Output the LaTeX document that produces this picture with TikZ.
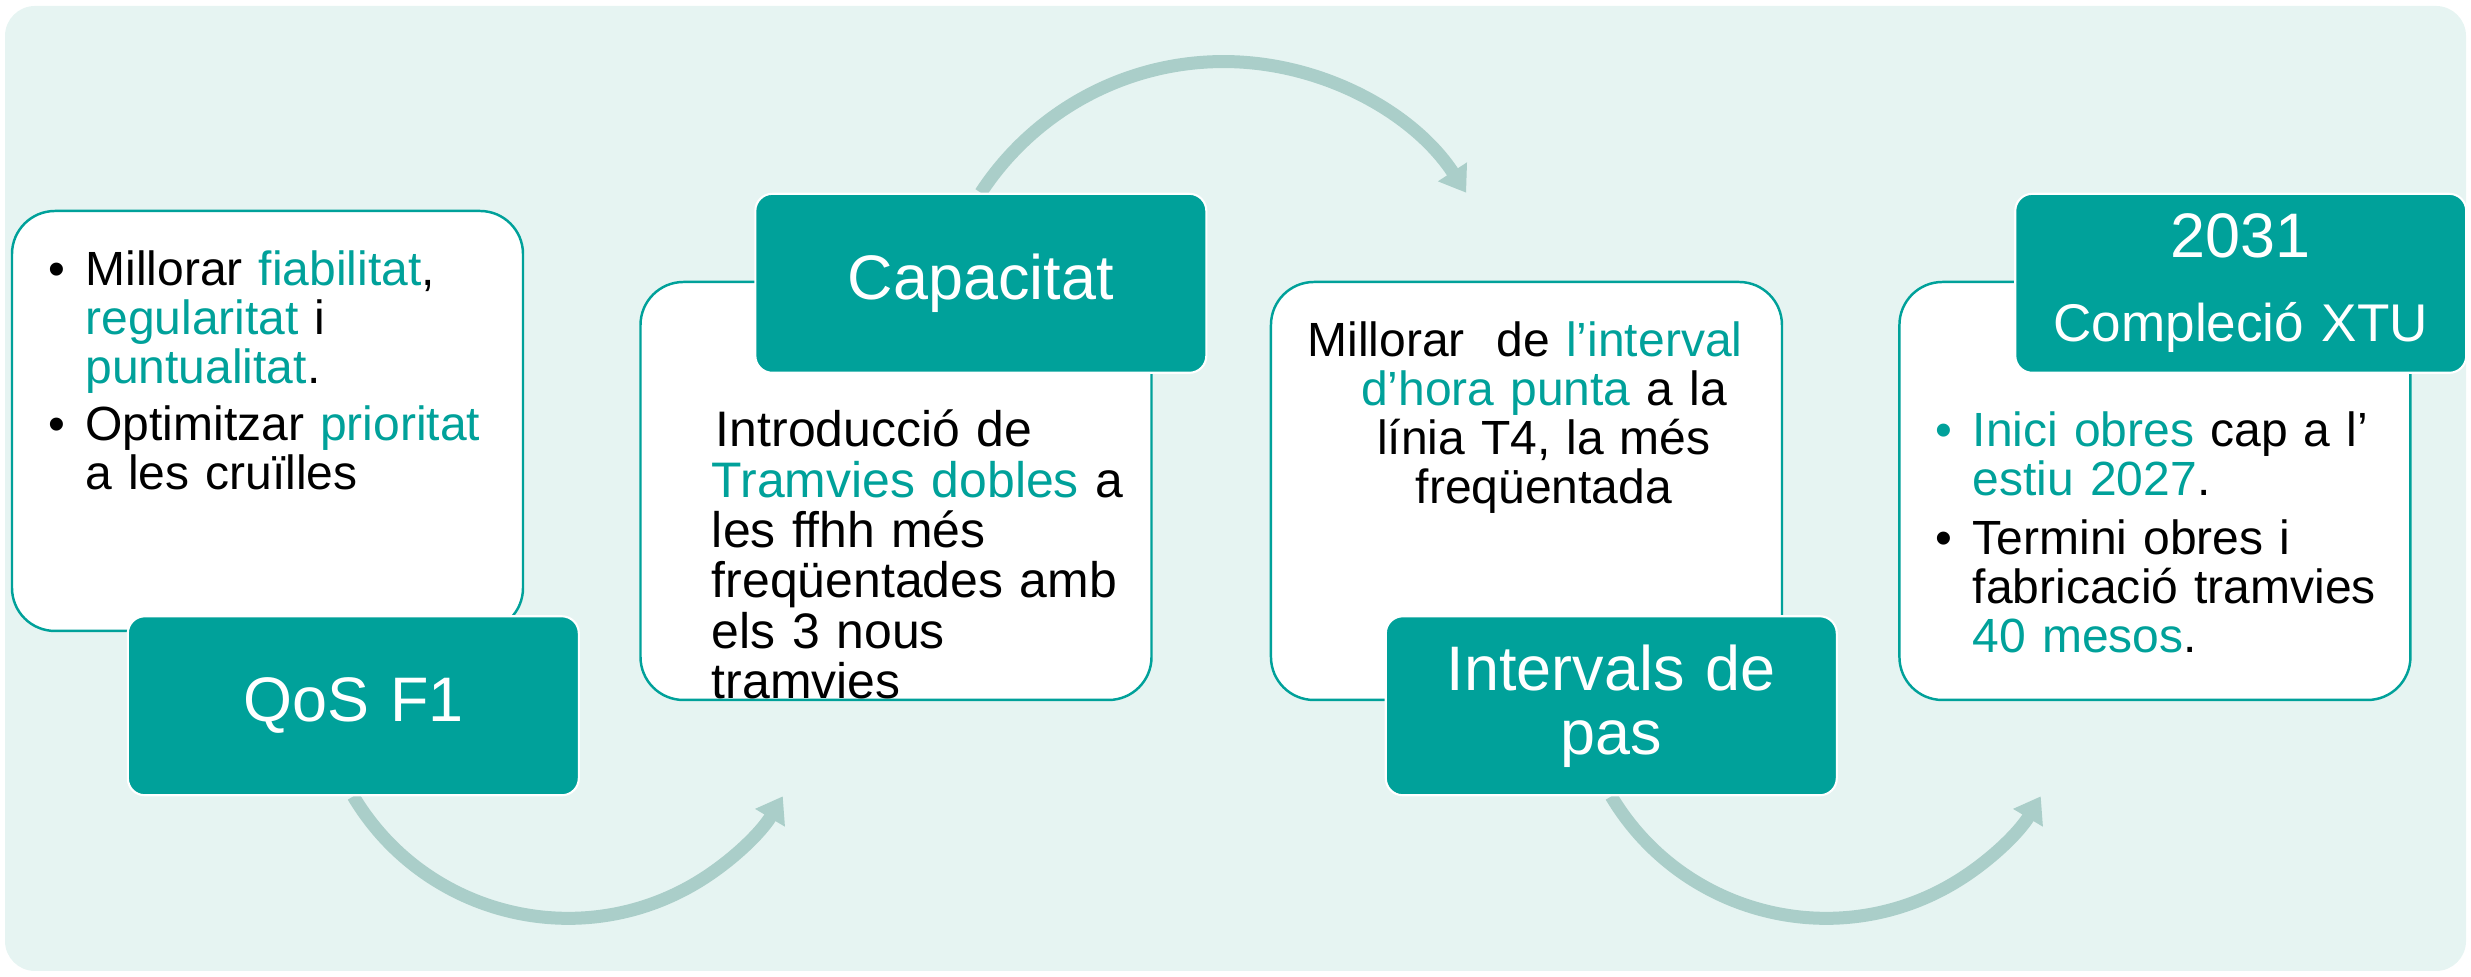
\documentclass[tikz,border=0pt]{standalone}
\usepackage{fontspec}
\setmainfont{Liberation Sans}
\usepackage{xcolor}
\usetikzlibrary{arrows.meta, positioning, backgrounds}

\definecolor{tealmain}{HTML}{00A19A}
\definecolor{mintbg}{HTML}{E6F4F2}
\definecolor{arcgray}{HTML}{AACEC9}

\newcommand{\mint}[1]{\textcolor{tealmain}{#1}}
\newcommand{\bul}[1][black]{\makebox[0.37cm][l]{\textcolor{#1}{\textbullet}}}
\newcommand{\cont}{\hspace*{0.37cm}}
\newcommand{\bodyfont}{\fontsize{13.66pt}{13.9pt}\selectfont\lineskiplimit=-1cm}
\newcommand{\capfont}{\fontsize{14.2pt}{14.34pt}\selectfont\lineskiplimit=-1cm}
\newcommand{\headfont}{\fontsize{17.9pt}{18.2pt}\selectfont\lineskiplimit=-1cm}
\newcommand{\xtufont}{\fontsize{15.1pt}{23.9pt}\selectfont\lineskiplimit=-1cm}
\newcommand{\yearfont}{\fontsize{17.9pt}{23.9pt}\selectfont}

\begin{document}
\begin{tikzpicture}
\tikzstyle{panel} = [rectangle, draw=tealmain, line width=0.7pt, fill=white, rounded corners=0.43cm, minimum width=5.11cm, minimum height=4.18cm]
\tikzstyle{heading} = [rectangle, draw=white, line width=0.6pt, fill=tealmain, rounded corners=0.17cm, minimum width=4.51cm, minimum height=1.79cm, inner sep=0pt, text width=4.4cm, align=center, text=white, font=\headfont, anchor=north west]
\tikzstyle{body} = [inner sep=0pt, font=\bodyfont, align=left, text width=4.5cm, anchor=base west]
\tikzstyle{flow} = [draw=arcgray, line width=0.13cm, -{Triangle[length=0.25cm, width=0.33cm]}]

\useasboundingbox (0,0) rectangle (24.71,9.77);

\node [panel, minimum height=4.2cm] (qosbody) at (2.675,5.56) {};
\node [panel] (capbody) at (8.96,4.86) {};
\node [panel, right=1.17cm of capbody] (intbody) {};
\node [panel, right=1.15cm of intbody] (xtubody) {};

\node [body] (qostext) at ([xshift=0.37cm, yshift=-0.76cm]qosbody.north west) {\bul Millorar \mint{fiabilitat},\\ \cont\mint{regularitat} i\\ \cont\mint{puntualitat}.\\[0.08cm] \bul Optimitzar \mint{prioritat}\\ \cont a les cruïlles};
\node [body, font=\capfont] (captext) at ([xshift=0.72cm, yshift=-1.66cm]capbody.north west) {\hspace*{0.04cm}Introducció de\\ \mint{Tramvies dobles} a\\ les ffhh més\\ freqüentades amb\\ els 3 nous\\ tramvies};
\node [body, align=center, anchor=base, text width=4.8cm] (inttext) at ([xshift=0.175cm, yshift=-0.76cm]intbody.north) {Millorar\ \ de \mint{l’interval}\hspace*{0.38cm}\mbox{}\\ \mint{d’hora punta} a la\\ línia T4, la més\\ freqüentada};
\node [body] (xtutext) at ([xshift=0.37cm, yshift=-1.66cm]xtubody.north west) {\bul[tealmain]\mint{Inici obres} cap a l’\\ \cont\mint{estiu 2027}.\\[0.1cm] \bul Termini obres i\\ \cont fabricació tramvies\\ \cont\mint{40 mesos}.};

\node [heading] (qos) at ([shift={(1.16,0.17)}]qosbody.south west) {QoS F1};
\node [heading] (cap) at ([shift={(1.15,0.88)}]capbody.north west) {Capacitat};
\node [heading] (int) at ([shift={(1.15,0.86)}]intbody.south west) {Intervals de\\pas};
\node [heading, font=\xtufont] (xtu) at ([shift={(1.16,0.88)}]xtubody.north west) {{\yearfont 2031}\\Compleció XTU};

\begin{scope}[on background layer]
\fill [mintbg, rounded corners=0.3cm] (0.05,0.06) rectangle (24.66,9.71);
\draw [flow] (qos.south) arc[start angle=210.8, end angle=329.2, radius=2.5cm];
\draw [flow] (cap.north) arc[start angle=146.8, end angle=33.2, radius=2.9cm];
\draw [flow] (int.south) arc[start angle=210.8, end angle=329.2, radius=2.5cm];
\end{scope}
\end{tikzpicture}
\end{document}
